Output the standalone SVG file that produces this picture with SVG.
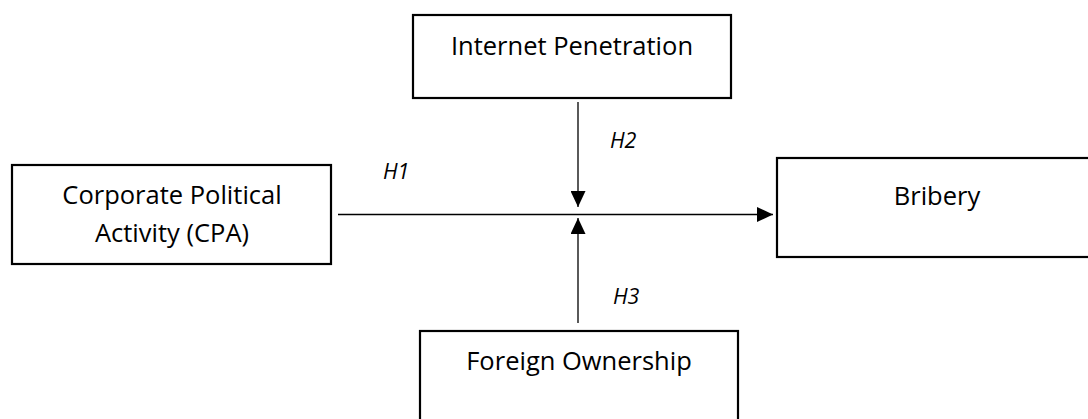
<svg xmlns="http://www.w3.org/2000/svg" width="1088" height="419" viewBox="0 0 1088 419">
<style>
.box{fill:#fff;stroke:#000;stroke-width:2.2}
.t{font-family:"Open Sans","Liberation Sans",sans-serif;font-size:25.5px;fill:#000;text-anchor:middle}
.h{font-family:"Open Sans","Liberation Sans",sans-serif;font-size:21.5px;font-style:italic;fill:#000}
.c{stroke:#000;stroke-width:1.3;fill:none}
</style>
<defs>
<marker id="arrb" viewBox="0 0 16 15" refX="16" refY="7.5" markerWidth="16" markerHeight="15" markerUnits="userSpaceOnUse" orient="auto">
<path d="M0,0 L16,7.5 L0,15 Z" fill="#000"/>
</marker>
</defs>
<g id="cpa">
<rect class="box" x="12" y="165" width="319" height="99"/>
<text class="t" x="172" y="204">Corporate Political</text>
<text class="t" x="172" y="242">Activity (CPA)</text>
</g>
<g id="internet">
<rect class="box" x="413" y="15" width="318" height="83"/>
<text class="t" x="572" y="55">Internet Penetration</text>
</g>
<g id="bribery">
<rect class="box" x="777" y="158" width="320" height="99"/>
<text class="t" x="937" y="205">Bribery</text>
</g>
<g id="foreign">
<rect class="box" x="420" y="331" width="318" height="100"/>
<text class="t" x="579" y="370">Foreign Ownership</text>
</g>
<g id="connectors">
<line class="c" x1="338" y1="214.5" x2="773" y2="214.5" marker-end="url(#arrb)"/>
<line class="c" x1="578" y1="102" x2="578" y2="207" marker-end="url(#arrb)"/>
<line class="c" x1="578" y1="323" x2="578" y2="218" marker-end="url(#arrb)"/>
</g>
<g id="labels">
<text class="h" x="383" y="179">H1</text>
<text class="h" x="610" y="148">H2</text>
<text class="h" x="613" y="304">H3</text>
</g>
</svg>
